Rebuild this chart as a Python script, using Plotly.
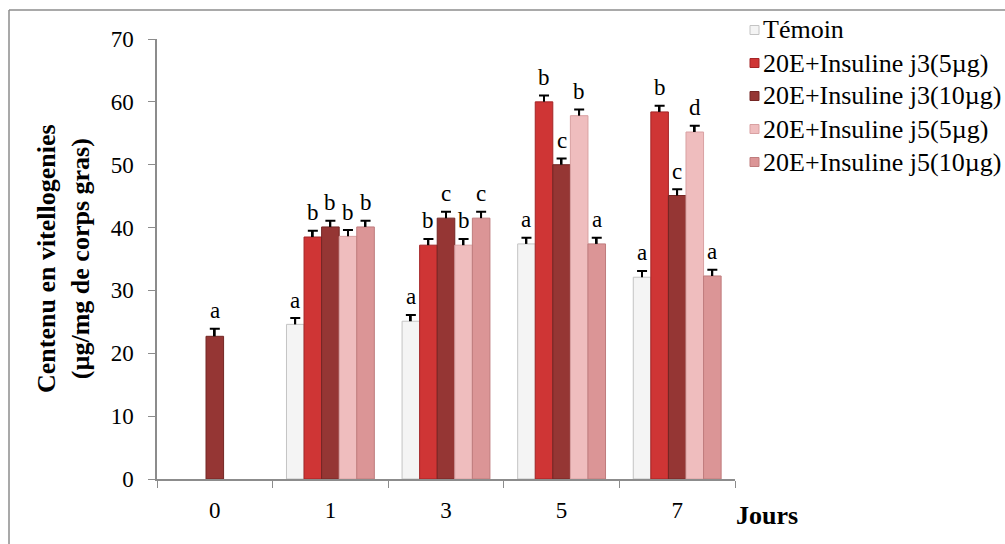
import plotly.graph_objects as go

days = ["0", "1", "3", "5", "7"]
series_names = ["Témoin", "20E+Insuline j3(5µg)", "20E+Insuline j3(10µg)",
                "20E+Insuline j5(5µg)", "20E+Insuline j5(10µg)"]

temoin = [None, 24.6, 25.1, 37.4, 32.1]
j3_5 = [None, 38.5, 37.2, 60.0, 58.4]
j3_10 = [22.7, 40.1, 41.5, 50.0, 45.1]
j5_5 = [None, 38.6, 37.2, 57.8, 55.2]
j5_10 = [None, 40.1, 41.5, 37.4, 32.3]

err_temoin = [None, 1.0, 1.0, 1.0, 1.0]
err_j3_5 = [None, 1.0, 1.0, 1.0, 1.0]
err_j3_10 = [1.2, 1.0, 1.0, 1.0, 1.0]
err_j5_5 = [None, 1.0, 1.0, 1.0, 1.0]
err_j5_10 = [None, 1.0, 1.0, 1.0, 1.0]

letters_temoin = ["", "a", "a", "a", "a"]
letters_j3_5 = ["", "b", "b", "b", "b"]
letters_j3_10 = ["a", "b", "c", "c", "c"]
letters_j5_5 = ["", "b", "b", "b", "d"]
letters_j5_10 = ["", "b", "c", "a", "a"]

values = [temoin, j3_5, j3_10, j5_5, j5_10]
errors = [err_temoin, err_j3_5, err_j3_10, err_j5_5, err_j5_10]
letters = [letters_temoin, letters_j3_5, letters_j3_10, letters_j5_5, letters_j5_10]

fills = ["#F4F4F4", "#CF3535", "#953634", "#EFBDBE", "#DB9596"]
edges = ["#C4C4C4", "#A52527", "#742624", "#D9A1A2", "#BF7C7D"]

W = 0.152
SW = 0.016
FONT = "Liberation Serif"

# plot area in pixels (for converting legend/frame positions to paper coords)
L, R, T, B = 157, 735, 39, 479
def px(x):
    return (x - L) / (R - L)
def py(y):
    return (B - y) / (B - T)

fig = go.Figure()
annotations = []
shapes = []
offsets = []
for k in range(5):
    offs = []
    for i in range(5):
        if i == 0:
            offs.append(-W / 2)
        else:
            offs.append(-2.5 * W + k * W)
    offsets.append(offs)
    fig.add_trace(go.Bar(
        x=days, y=values[k], name=series_names[k], showlegend=False,
        width=[W] * 5, offset=offs,
        marker=dict(color=fills[k], line=dict(color=edges[k], width=1)),
    ))

for k in range(5):
    offs = offsets[k]
    fig.add_trace(go.Bar(
        x=days, y=errors[k], base=values[k], showlegend=False,
        width=[SW] * 5, offset=[o + W / 2 - SW / 2 for o in offs],
        marker=dict(color="black", line=dict(width=0)),
        error_y=dict(type="data", symmetric=False, array=[0] * 5,
                     arrayminus=[0] * 5, color="black", thickness=2, width=5),
        hoverinfo="skip",
    ))
    for i in range(5):
        if values[k][i] is None or letters[k][i] == "":
            continue
        annotations.append(dict(
            x=i + offs[i] + W / 2, y=values[k][i] + errors[k][i],
            xref="x", yref="y", text=letters[k][i], showarrow=False,
            yanchor="middle", yshift=18,
            font=dict(family=FONT, size=23, color="black"),
        ))

# legend (swatch + label), placed at the reference's positions
legend_rows = [30, 63, 96, 129, 162]
for k in range(5):
    yc = legend_rows[k]
    shapes.append(dict(type="rect", xref="paper", yref="paper",
                       x0=px(750), x1=px(759), y0=py(yc - 4.5), y1=py(yc + 4.5),
                       fillcolor=fills[k], line=dict(color=edges[k], width=1)))
    annotations.append(dict(
        x=px(761), y=py(yc), xref="paper", yref="paper", text=series_names[k],
        showarrow=False, xanchor="left", yanchor="middle",
        font=dict(family=FONT, size=26, color="black"),
    ))

annotations.append(dict(
    x=px(734), y=py(515), xref="paper", yref="paper", text="<b>Jours</b>",
    showarrow=False, xanchor="left", yanchor="middle",
    font=dict(family=FONT, size=26, color="black"),
))
annotations.append(dict(
    x=px(63), y=0.5, xref="paper", yref="paper",
    text="<b>Centenu en vitellogenies<br>(µg/mg de corps gras)</b>",
    showarrow=False, textangle=-90, xanchor="center", yanchor="middle",
    font=dict(family=FONT, size=26, color="black"),
))

shapes += [
    dict(type="line", xref="paper", yref="paper", x0=px(9), x1=px(1010),
         y0=py(10), y1=py(10), line=dict(color="#8C8C8C", width=1.5)),
    dict(type="line", xref="paper", yref="paper", x0=px(9), x1=px(9),
         y0=py(10), y1=py(550), line=dict(color="#8C8C8C", width=1.5)),
]

fig.update_layout(
    width=1005, height=544,
    margin=dict(l=L, r=1005 - R, t=T, b=544 - B, autoexpand=False),
    paper_bgcolor="white", plot_bgcolor="white",
    barmode="overlay",
    showlegend=False,
    font=dict(family=FONT, size=23, color="black"),
    annotations=annotations,
    shapes=shapes,
)
fig.update_xaxes(
    type="category", range=[-0.5, 4.5], showline=True, linecolor="#8C8C8C",
    linewidth=1.5, ticks="outside", ticklen=7, tickcolor="#8C8C8C",
    tickwidth=1.2, tickson="boundaries", showgrid=False, zeroline=False,
    ticklabelstandoff=10,
    tickfont=dict(family=FONT, size=23, color="black"),
)
fig.update_yaxes(
    range=[0, 70], dtick=10, showline=True, linecolor="#8C8C8C",
    linewidth=1.5, ticks="outside", ticklen=7, tickcolor="#8C8C8C",
    tickwidth=1.2, showgrid=False, zeroline=False,
    ticklabelstandoff=10,
    tickfont=dict(family=FONT, size=23, color="black"),
)

fig.write_html("out.html")
